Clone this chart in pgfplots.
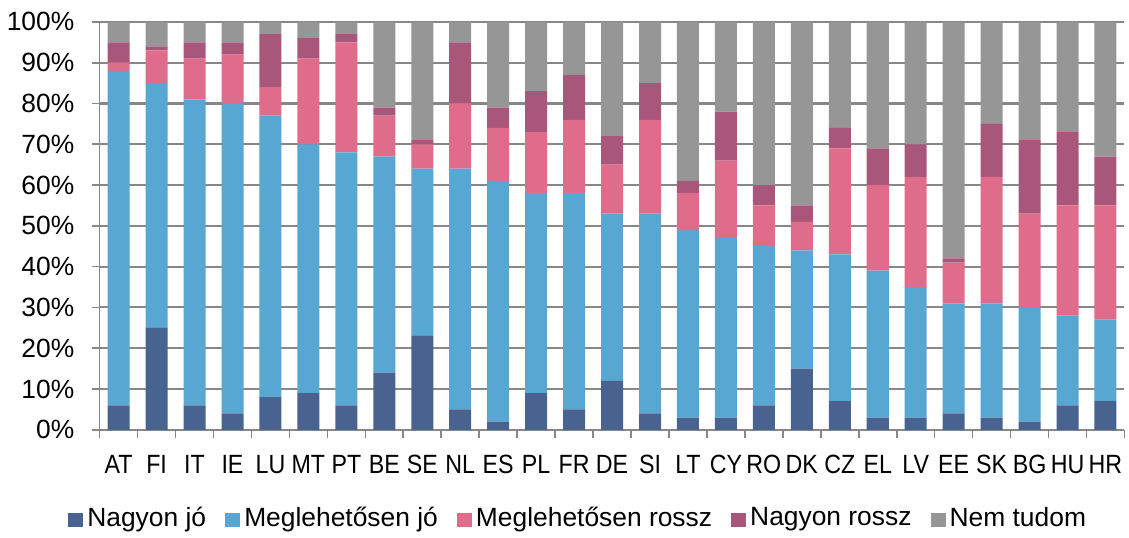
\documentclass[border=0pt]{standalone}
\usepackage{pgfplots}
\pgfplotsset{compat=1.18}
\usepackage{pgfplotstable}
\usepackage{fontspec}
\setmainfont{Liberation Sans}
\newfontfamily\narrowfont[FakeStretch=0.88]{Liberation Sans}

\definecolor{cNJ}{HTML}{48638F}
\definecolor{cMJ}{HTML}{58A6D2}
\definecolor{cMR}{HTML}{DE6C8A}
\definecolor{cNR}{HTML}{A8577A}
\definecolor{cNT}{HTML}{969696}
\definecolor{gridc}{HTML}{878787}

% shares in %
\pgfplotstableread{
x cat nj mj mr nr nt
0 AT 6 82 2 5 5
1 FI 25 60 8 1 6
2 IT 6 75 10 4 5
3 IE 4 76 12 3 5
4 LU 8 69 7 13 3
5 MT 9 61 21 5 4
6 PT 6 62 27 2 3
7 BE 14 53 10 2 21
8 SE 23 41 6 1 29
9 NL 5 59 16 15 5
10 ES 2 59 13 5 21
11 PL 9 49 15 10 17
12 FR 5 53 18 11 13
13 DE 12 41 12 7 28
14 SI 4 49 23 9 15
15 LT 3 46 9 3 39
16 CY 3 44 19 12 22
17 RO 6 39 10 5 40
18 DK 15 29 7 4 45
19 CZ 7 36 26 5 26
20 EL 3 36 21 9 31
21 LV 3 32 27 8 30
22 EE 4 27 10 1 58
23 SK 3 28 31 13 25
24 BG 2 28 23 18 29
25 HU 6 22 27 18 27
26 HR 7 20 28 12 33
}\data

\begin{document}
\begin{tikzpicture}
\begin{axis}[
    ybar stacked,
    scale only axis,
    width=505pt, height=201pt,
    bar width=0.58,
    xmin=-0.5, xmax=26.5,
    ymin=0, ymax=100,
    xtick={0,...,26},
    xticklabels from table={\data}{cat},
    major x tick style={draw=none},
    minor xtick={-0.5,0.5,...,26.5},
    minor x tick style={gridc, line width=0.8pt},
    ytick={0,10,...,100},
    yticklabel={\pgfmathprintnumber{\tick}\%},
    /pgf/number format/assume math mode=true,
    tick align=outside,
    major tick length=4pt, minor tick length=4pt,
    y tick style={gridc, line width=0.8pt},
    axis x line*=bottom, axis y line*=left,
    axis line style={gridc, line width=0.8pt},
    ymajorgrids, major grid style={gridc, line width=1pt},
    ticklabel style={font=\fontsize{13}{15}\selectfont, black},
    yticklabel style={xshift=-5pt},
    xticklabel style={font=\narrowfont\fontsize{13}{15}\selectfont, anchor=base, yshift=-17.5pt},
    legend style={draw=none, at={(0.468,-0.217)}, anchor=center,
      font=\fontsize{13}{15}\selectfont, legend columns=5,
      /tikz/every even column/.append style={column sep=7.5pt}},
    legend image code/.code={\fill[#1] (0pt,-4.5pt) rectangle (7.3pt,2.5pt);},
]
\addplot[fill=cNJ, draw=none] table[x=x, y=nj] {\data};
\addlegendentry{Nagyon jó}
\addplot[fill=cMJ, draw=none] table[x=x, y=mj] {\data};
\addlegendentry{Meglehetősen jó}
\addplot[fill=cMR, draw=none] table[x=x, y=mr] {\data};
\addlegendentry{Meglehetősen rossz}
\addplot[fill=cNR, draw=none] table[x=x, y=nr] {\data};
\addlegendentry{Nagyon rossz}
\addplot[fill=cNT, draw=none] table[x=x, y=nt] {\data};
\addlegendentry{Nem tudom}
\end{axis}
\path (current axis.north west) ++(-49pt,10.8pt);
\path (current axis.south west) ++(0pt,-49.5pt);
\end{tikzpicture}
\end{document}
